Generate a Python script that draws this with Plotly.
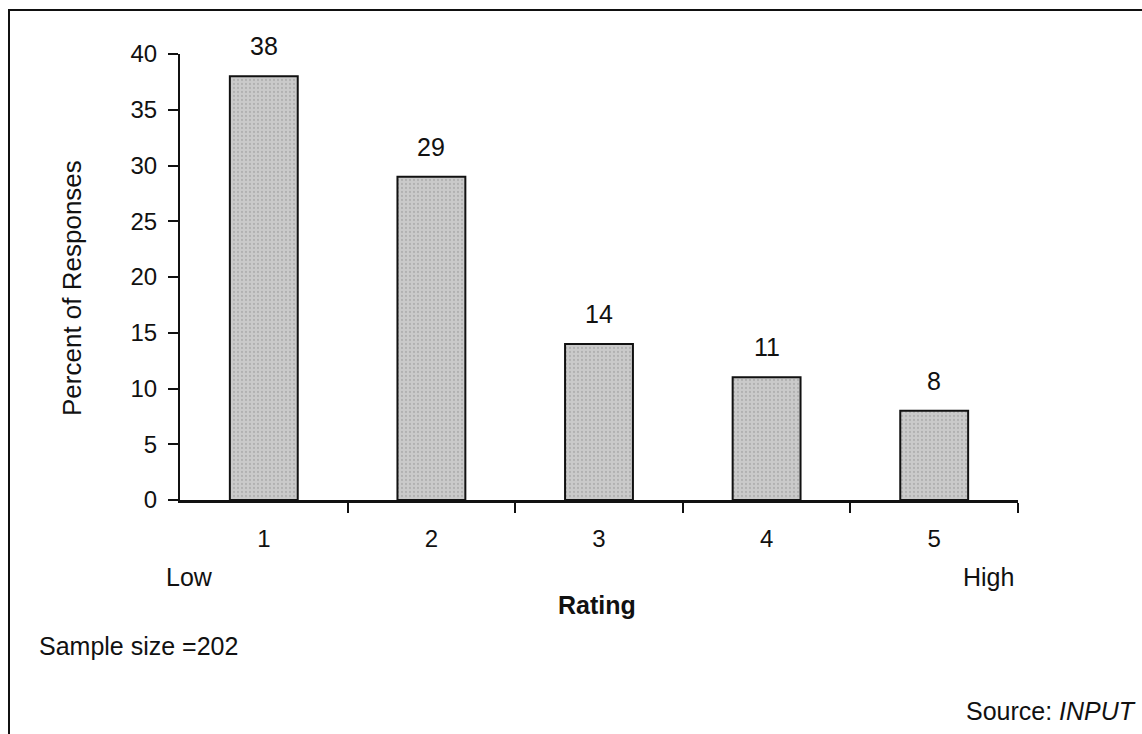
import plotly.graph_objects as go

# Survey results: share of responses by rating
ratings = ["1", "2", "3", "4", "5"]
percent = [38, 29, 14, 11, 8]
y_ticks = [0, 5, 10, 15, 20, 25, 30, 35, 40]

W, H = 1142, 734
FONT = "Liberation Sans, Arial, sans-serif"
INK = "#111111"

def px_x(p):
    return p / W

def px_y(p):
    return 1 - p / H

fig = go.Figure()
fig.add_trace(go.Bar(
    x=list(range(len(ratings))),
    y=percent,
    width=0.405,
    marker=dict(
        color="#c6c6c6",
        line=dict(color=INK, width=2),
        pattern=dict(shape=".", fgcolor="#979797", bgcolor="#cacaca", size=4, solidity=0.25),
    ),
    hoverinfo="skip",
))

# value labels above each bar
for i, v in enumerate(percent):
    fig.add_annotation(x=i, y=v, text=str(v), showarrow=False, yshift=30,
                       yanchor="middle",
                       font=dict(family=FONT, size=25, color=INK))

# end labels, axis title, notes
texts = [
    dict(x=px_x(164), y=px_y(577), text="Low", xanchor="left"),
    dict(x=px_x(1016), y=px_y(577), text="High", xanchor="right"),
    dict(x=px_x(597), y=px_y(605), text="<b>Rating</b>", xanchor="center"),
    dict(x=px_x(37), y=px_y(646), text="Sample size =202", xanchor="left"),
    dict(x=px_x(1138), y=px_y(711), text="Source: <i>INPUT</i>", xanchor="right"),
]
for t in texts:
    fig.add_annotation(xref="paper", yref="paper", showarrow=False, yanchor="middle",
                       font=dict(family=FONT, size=25, color=INK), **t)

fig.add_annotation(xref="paper", yref="paper", x=px_x(72), y=px_y(288),
                   text="Percent of Responses", textangle=-90, showarrow=False,
                   xanchor="center", yanchor="middle",
                   font=dict(family=FONT, size=26, color=INK))

# outer frame
fig.add_shape(type="rect", xref="paper", yref="paper",
              x0=px_x(9), x1=px_x(1160), y0=px_y(760), y1=px_y(10),
              line=dict(color=INK, width=2), layer="above")

fig.update_layout(
    width=W, height=H,
    margin=dict(l=0, r=0, t=0, b=0, pad=0, autoexpand=False),
    paper_bgcolor="white", plot_bgcolor="white",
    showlegend=False,
    xaxis=dict(
        domain=[px_x(180), px_x(1018)],
        range=[-0.5, len(ratings) - 0.5],
        tickvals=[i + 0.5 for i in range(len(ratings))],
        ticktext=[""] * len(ratings),
        ticks="outside", ticklen=10, tickwidth=2, tickcolor=INK,
        showline=True, linecolor=INK, linewidth=3,
        showgrid=False, zeroline=False, automargin=False,
    ),
    xaxis2=dict(
        domain=[px_x(180), px_x(1018)],
        anchor="y", overlaying="x",
        range=[-0.5, len(ratings) - 0.5],
        tickvals=list(range(len(ratings))),
        ticktext=ratings,
        ticks="", ticklabelstandoff=22,
        showline=False, showgrid=False, zeroline=False, automargin=False,
        side="bottom",
        tickfont=dict(family=FONT, size=24, color=INK),
    ),
    yaxis=dict(
        domain=[px_y(500), px_y(54)],
        range=[0, 40],
        tickvals=y_ticks,
        ticks="outside", ticklen=10, tickwidth=2, tickcolor=INK,
        ticklabelstandoff=6,
        showline=True, linecolor=INK, linewidth=2,
        showgrid=False, zeroline=False, automargin=False,
        tickfont=dict(family=FONT, size=24, color=INK),
    ),
)
# empty trace so the label axis is drawn
fig.add_trace(go.Scatter(x=[], y=[], xaxis="x2", yaxis="y", showlegend=False))

fig.write_html("out.html")
